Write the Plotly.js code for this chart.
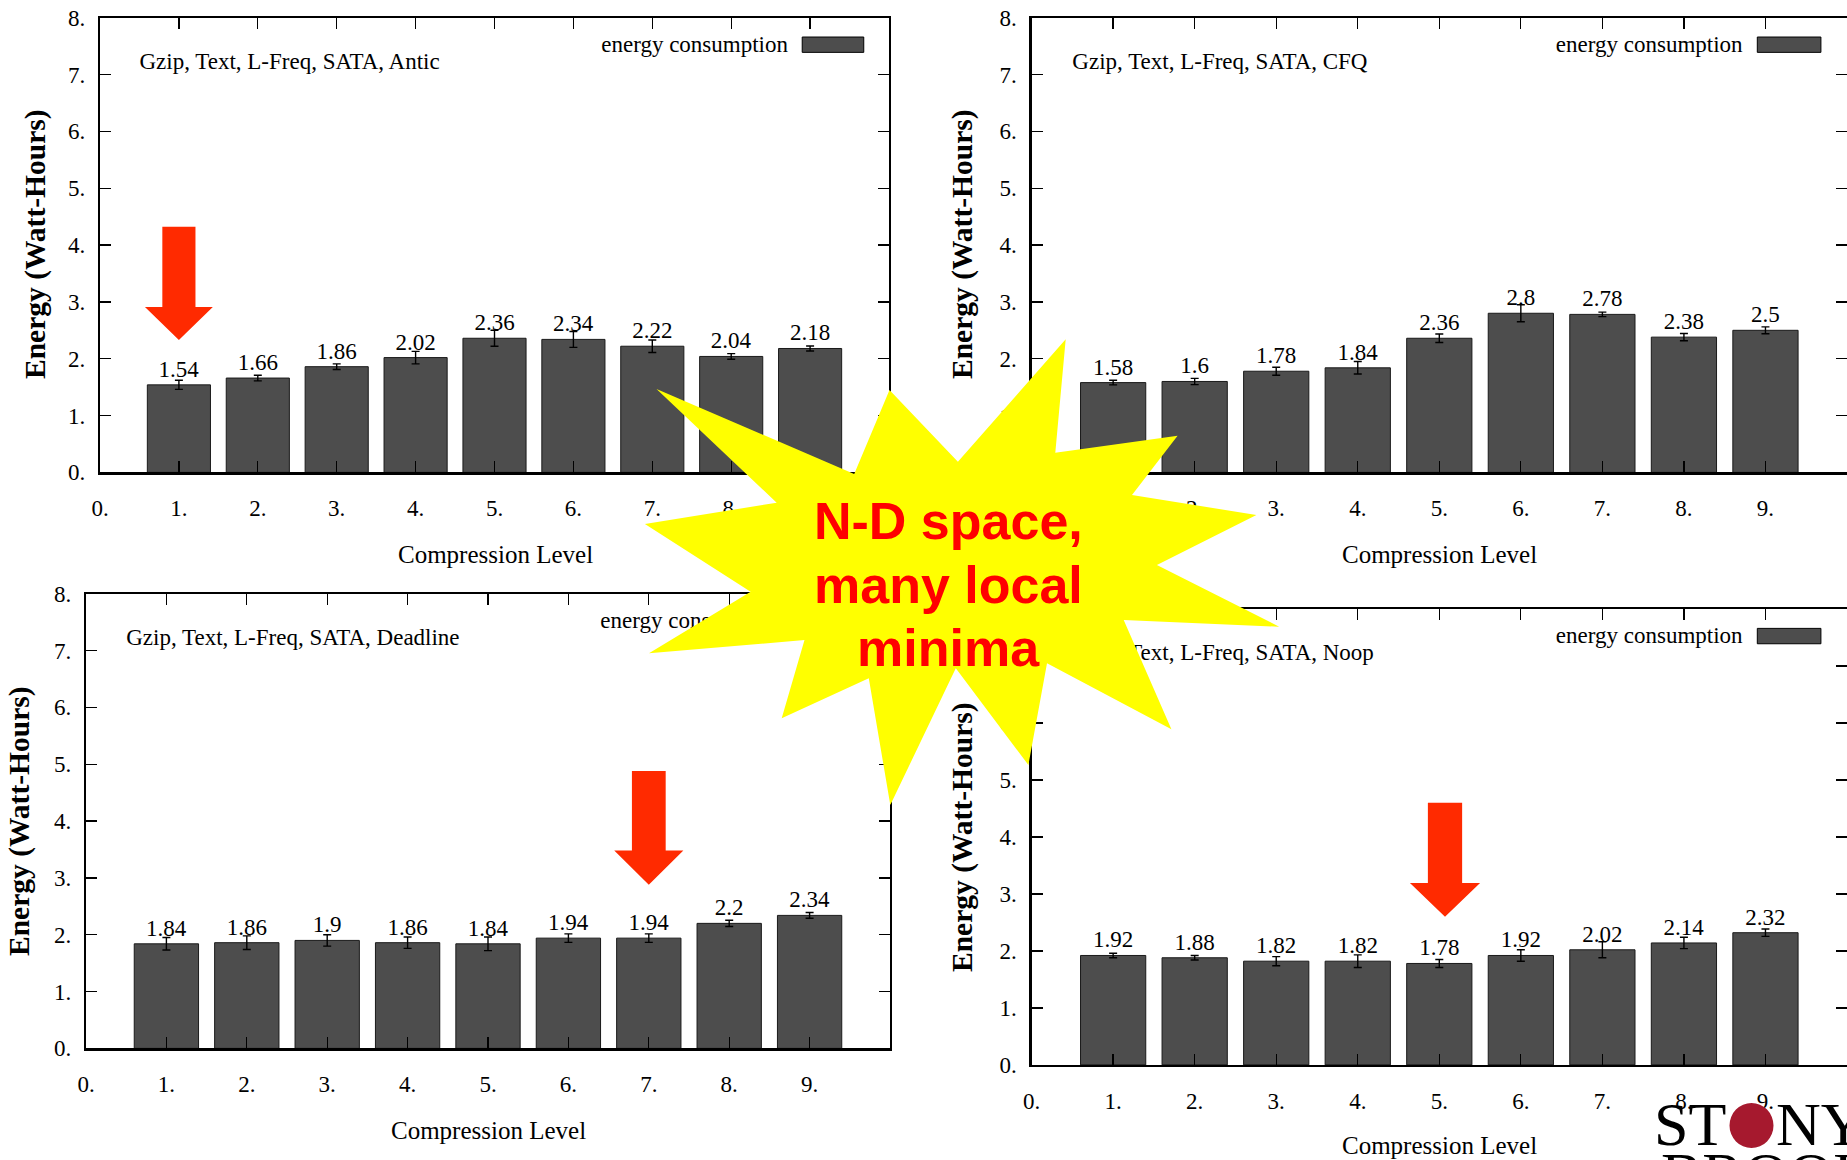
<!DOCTYPE html>
<html>
<head>
<meta charset="utf-8">
<script src="https://cdn.plot.ly/plotly-3.0.1.min.js"></script>
<style>
html,body{margin:0;padding:0;background:#ffffff;}
#chart{width:1847px;height:1160px;}
</style>
</head>
<body>
<div id="chart"></div>
<script>
// ---------------- data ----------------
const levels = [1, 2, 3, 4, 5, 6, 7, 8, 9];

const anticEnergy   = [1.54, 1.66, 1.86, 2.02, 2.36, 2.34, 2.22, 2.04, 2.18];
const anticErr      = [0.08, 0.05, 0.05, 0.11, 0.14, 0.14, 0.11, 0.05, 0.045];

const cfqEnergy     = [1.58, 1.6, 1.78, 1.84, 2.36, 2.8, 2.78, 2.38, 2.5];
const cfqErr        = [0.04, 0.055, 0.07, 0.11, 0.075, 0.15, 0.04, 0.065, 0.06];

const deadlineEnergy = [1.84, 1.86, 1.9, 1.86, 1.84, 1.94, 1.94, 2.2, 2.34];
const deadlineErr    = [0.11, 0.12, 0.1, 0.1, 0.12, 0.075, 0.075, 0.055, 0.05];

const noopEnergy    = [1.92, 1.88, 1.82, 1.82, 1.78, 1.92, 2.02, 2.14, 2.32];
const noopErr       = [0.04, 0.04, 0.08, 0.11, 0.07, 0.1, 0.14, 0.1, 0.065];

const panelTitles = [
  'Gzip, Text, L-Freq, SATA, Antic',
  'Gzip, Text, L-Freq, SATA, CFQ',
  'Gzip, Text, L-Freq, SATA, Deadline',
  'Gzip, Text, L-Freq, SATA, Noop'
];
const seriesName = 'energy consumption';
const xTitle = 'Compression Level';
const yTitle = 'Energy (Watt-Hours)';

const xTickVals = [0, 1, 2, 3, 4, 5, 6, 7, 8, 9];
const xTickText = ['0.', '1.', '2.', '3.', '4.', '5.', '6.', '7.', '8.', '9.'];
const yTickVals = [0, 1, 2, 3, 4, 5, 6, 7, 8];
const yTickText = ['0.', '1.', '2.', '3.', '4.', '5.', '6.', '7.', '8.'];

const calloutLines = ['N-D space,', 'many local', 'minima'];
// arrows point at the level the slide highlights in panels 1, 3, 4
const arrowLevels = [{panel: 0, level: 1}, {panel: 2, level: 7}, {panel: 3, level: 5}];

// ---------------- layout geometry (pixels) ----------------
const W = 1847, H = 1160;
const PANELS = [
  {x: [100, 889],     y: [472.4, 17.7],  yTitle: [36, 244],  xTitle: [495, 554]},
  {x: [1031.6, 1847], y: [472.4, 17.7],  yTitle: [963, 244], xTitle: [1439.5, 554]},
  {x: [86, 890],      y: [1048.4, 593.7], yTitle: [19, 821], xTitle: [488, 1130]},
  {x: [1031.6, 1847], y: [1064.9, 609],  yTitle: [962, 837], xTitle: [1439.5, 1145]}
];
const ARROW_GEOM = [
  {dx: 0,    top: 4.32, headBase: 2.91, tip: 2.33},
  {dx: 0,    top: 4.88, headBase: 3.48, tip: 2.88},
  {dx: 0.07, top: 4.6,  headBase: 3.19, tip: 2.6}
];
const STAR_PX = [
  [656.5, 389], [854.2, 474], [889.5, 390], [957.9, 461.7], [1065.7, 339.3],
  [1055.3, 452.7], [1177.6, 435.7], [1132, 495], [1256.4, 515], [1156.9, 565],
  [1279.2, 626.7], [1123.7, 620], [1171.4, 729.3], [1047, 663.3], [1028.4, 765],
  [955.8, 668.3], [890.3, 805], [868.8, 678.3], [781.7, 718.3], [804.5, 640],
  [649, 653.3], [750.6, 591.7], [644.9, 524], [776.7, 502.7]
];
const CALLOUT_X = 948;
const CALLOUT_Y = [521, 585, 648];

const SERIF = 'Liberation Serif, Times New Roman, serif';
const SANS = 'Liberation Sans, Arial, sans-serif';
const BAR_COLOR = '#4d4d4d';
const ARROW_COLOR = '#ff2a00';

const seriesValues = [anticEnergy, cfqEnergy, deadlineEnergy, noopEnergy];
const seriesErrors = [anticErr, cfqErr, deadlineErr, noopErr];

const px = x => x / W;
const py = y => 1 - y / H;

const traces = [];
const layout = {
  width: W, height: H,
  margin: {l: 0, r: 0, t: 0, b: 0},
  paper_bgcolor: '#ffffff',
  plot_bgcolor: 'rgba(0,0,0,0)',
  showlegend: false,
  font: {family: SERIF, color: '#000000'},
  shapes: [],
  annotations: []
};

PANELS.forEach((p, i) => {
  const xa = 'x' + (i ? i + 1 : '');
  const ya = 'y' + (i ? i + 1 : '');
  const xKey = 'xaxis' + (i ? i + 1 : '');
  const yKey = 'yaxis' + (i ? i + 1 : '');
  const common = {
    showgrid: false, zeroline: false,
    showline: true, linecolor: '#000000', linewidth: 2.2,
    mirror: 'allticks',
    ticks: 'inside', ticklen: 11, tickwidth: 1.3, tickcolor: '#000000',
    tickfont: {family: SERIF, size: 23, color: '#000000'},
    fixedrange: true
  };
  layout[xKey] = Object.assign({}, common, {
    domain: [px(p.x[0]), px(p.x[1])],
    range: [0, 10],
    anchor: ya,
    tickmode: 'array', tickvals: xTickVals, ticktext: xTickText,
    ticklabelstandoff: 14
  });
  layout[yKey] = Object.assign({}, common, {
    domain: [py(p.y[0]), py(p.y[1])],
    range: [0, 8],
    anchor: xa,
    tickmode: 'array', tickvals: yTickVals, ticktext: yTickText,
    ticklabelstandoff: 8
  });

  traces.push({
    type: 'bar', x: levels, y: seriesValues[i],
    xaxis: xa, yaxis: ya, width: 0.8,
    marker: {color: BAR_COLOR, line: {color: '#1a1a1a', width: 1}},
    error_y: {type: 'data', array: seriesErrors[i], visible: true,
              color: '#000000', thickness: 1.4, width: 4},
    text: seriesValues[i].map(v => String(v)),
    textposition: 'outside', cliponaxis: false,
    textfont: {family: SERIF, size: 23, color: '#000000'},
    name: seriesName, hoverinfo: 'skip'
  });
  // in-plot title and key text (kept inside the subplot so the callout can cover them)
  traces.push({
    type: 'scatter', mode: 'text', x: [0.5], y: [7.2], text: [panelTitles[i]],
    textposition: 'middle right', xaxis: xa, yaxis: ya, cliponaxis: false,
    textfont: {family: SERIF, size: 23, color: '#000000'}, hoverinfo: 'skip'
  });
  traces.push({
    type: 'scatter', mode: 'text', x: [8.72], y: [7.5], text: [seriesName],
    textposition: 'middle left', xaxis: xa, yaxis: ya, cliponaxis: false,
    textfont: {family: SERIF, size: 23, color: '#000000'}, hoverinfo: 'skip'
  });
  // key swatch
  layout.shapes.push({
    type: 'rect', xref: xa, yref: ya, x0: 8.9, x1: 9.68, y0: 7.39, y1: 7.66,
    fillcolor: BAR_COLOR, line: {color: '#000000', width: 1}, layer: 'above'
  });

  layout.annotations.push({
    xref: 'paper', yref: 'paper', x: px(p.yTitle[0]), y: py(p.yTitle[1]),
    text: yTitle, textangle: -90, showarrow: false,
    xanchor: 'center', yanchor: 'middle',
    font: {family: SERIF, size: 29.5, color: '#000000', weight: 'bold'}
  });
  layout.annotations.push({
    xref: 'paper', yref: 'paper', x: px(p.xTitle[0]), y: py(p.xTitle[1]),
    text: xTitle, showarrow: false, xanchor: 'center', yanchor: 'middle',
    font: {family: SERIF, size: 25, color: '#000000'}
  });
});

// starburst callout
const starPath = STAR_PX.map((pt, k) => (k ? 'L ' : 'M ') + px(pt[0]).toFixed(5) + ' ' + py(pt[1]).toFixed(5)).join(' ') + ' Z';
layout.shapes.push({
  type: 'path', xref: 'paper', yref: 'paper', path: starPath,
  fillcolor: '#ffff00', line: {width: 0}, layer: 'above'
});

// red arrows
arrowLevels.forEach((a, k) => {
  const g = ARROW_GEOM[k];
  const xa = 'x' + (a.panel ? a.panel + 1 : '');
  const ya = 'y' + (a.panel ? a.panel + 1 : '');
  const xc = a.level + g.dx, sh = 0.21, hh = 0.43;
  const path = `M ${xc - sh} ${g.top} L ${xc + sh} ${g.top} L ${xc + sh} ${g.headBase} L ${xc + hh} ${g.headBase} L ${xc} ${g.tip} L ${xc - hh} ${g.headBase} L ${xc - sh} ${g.headBase} Z`;
  layout.shapes.push({
    type: 'path', xref: xa, yref: ya, path: path,
    fillcolor: ARROW_COLOR, line: {width: 0}, layer: 'above'
  });
});

calloutLines.forEach((line, k) => {
  layout.annotations.push({
    xref: 'paper', yref: 'paper', x: px(CALLOUT_X), y: py(CALLOUT_Y[k]),
    text: line, showarrow: false, xanchor: 'center', yanchor: 'middle',
    font: {family: SANS, size: 52, color: '#ff0000', weight: 'bold'}
  });
});

// university logo (partially cut off at bottom right)
layout.shapes.push({
  type: 'circle', xref: 'paper', yref: 'paper',
  x0: px(1729.5), x1: px(1773.5), y0: py(1148), y1: py(1103),
  fillcolor: '#a6192e', line: {width: 0}, layer: 'above'
});
layout.annotations.push({
  xref: 'paper', yref: 'paper', x: px(1728), y: py(1124), text: 'ST',
  showarrow: false, xanchor: 'right', yanchor: 'middle',
  font: {family: SERIF, size: 62, color: '#000000'}
});
layout.annotations.push({
  xref: 'paper', yref: 'paper', x: px(1774), y: py(1124), text: 'NY',
  showarrow: false, xanchor: 'left', yanchor: 'middle',
  font: {family: SERIF, size: 62, color: '#000000'}
});
layout.annotations.push({
  xref: 'paper', yref: 'paper', x: px(1659), y: py(1138), text: 'BROOK',
  showarrow: false, xanchor: 'left', yanchor: 'top',
  font: {family: SERIF, size: 62, color: '#000000'}
});

Plotly.newPlot('chart', traces, layout, {staticPlot: true, displayModeBar: false});
</script>
</body>
</html>
